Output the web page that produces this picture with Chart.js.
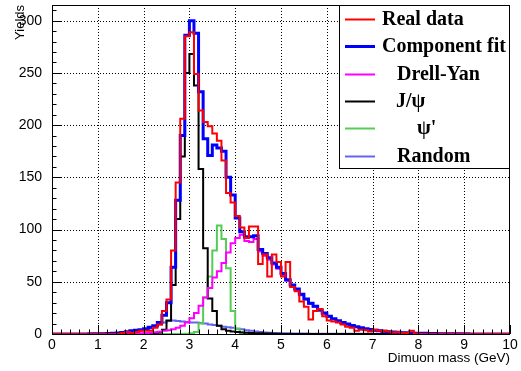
<!DOCTYPE html>
<html>
<head>
<meta charset="utf-8">
<script src="https://cdn.jsdelivr.net/npm/chart.js@4.4.1/dist/chart.umd.min.js"></script>
<style>
  html, body { margin: 0; padding: 0; background: #fff; }
</style>
</head>
<body>
<canvas id="massChart" width="521" height="371"></canvas>
<script>
// Bins: 100 bins of 0.1 GeV between 0 and 10 GeV
const massMin = 0;
const massMax = 10;
const binWidth = 0.1;
const yMax = 315;
const xTickLabels = ['0', '1', '2', '3', '4', '5', '6', '7', '8', '9', '10'];
const yTickLabels = ['0', '50', '100', '150', '200', '250', '300'];

// Real data (red)
const realData = [
    0, 0, 0, 0, 0, 0, 0, 0, 0, 0,
    0, 0, 0, 0, 0, 0, 1, 2, 1, 2,
    3, 3, 3, 6, 9, 22, 33, 80, 145, 206,
    285, 289, 249, 214, 203, 199, 192, 185, 166, 135,
    126, 113, 102, 92, 103, 103, 67, 76, 55, 76,
    69, 55, 69, 45, 41, 31, 26, 14, 22, 24,
    17, 13, 12, 11, 9, 7, 6, 3, 4, 3.5,
    2.5, 4, 3, 3, 2.5, 1.5, 2, 1, 1, 3,
    0.5, 0, 0, 0, 0, 0, 0, 0, 0, 0,
    0, 0, 0, 0, 0, 0, 0, 0, 0, 0
];

// Component fit (blue)
const componentFit = [
    0, 0, 0, 0, 0, 0, 0.1, 0.1, 0.1, 0.2,
    0.2, 0.3, 0.3, 0.4, 0.6, 1, 1.4, 2.2, 3, 3.5,
    4, 5, 6.5, 8, 11, 18, 30, 64, 128, 190,
    286, 300, 288, 232, 187, 171, 181, 178, 175, 150,
    133, 111, 98, 93, 93, 94, 81, 77, 73, 68,
    64, 58, 52, 47, 43, 38, 33.5, 29.5, 26.5, 23,
    20, 17, 14.6, 12.6, 11, 9.5, 8.1, 6.9, 5.9, 5,
    4.3, 3.7, 3.1, 2.6, 2.2, 1.9, 1.6, 1.3, 1.1, 0.9,
    0.8, 0.7, 0.6, 0.5, 0.4, 0.35, 0.3, 0.25, 0.2, 0.2,
    0.15, 0.15, 0.1, 0.1, 0.1, 0.1, 0.1, 0.1, 0.1, 0.1
];

// Drell-Yan (magenta)
const drellYan = [
    0, 0, 0, 0, 0, 0, 0, 0, 0, 0,
    0, 0, 0, 0, 0, 0.1, 0.2, 0.3, 0.4, 0.5,
    0.7, 1, 1.3, 1.7, 2.2, 3, 3.5, 4.5, 6, 8,
    11, 15, 20, 27, 35, 44, 54, 60, 68, 78,
    87, 92, 95, 89, 88, 91, 79, 75, 71, 66.5,
    62.5, 56.5, 51, 46, 42, 37, 33, 29, 26, 22.5,
    19.5, 16.5, 14.2, 12.3, 10.7, 9.2, 7.9, 6.7, 5.7, 4.9,
    4.1, 3.5, 3, 2.5, 2.1, 1.8, 1.5, 1.2, 1, 0.8,
    0.7, 0.6, 0.5, 0.4, 0.35, 0.3, 0.25, 0.2, 0.2, 0.15,
    0.1, 0.1, 0.1, 0.1, 0.1, 0.1, 0.1, 0.1, 0.1, 0.1
];

// J/psi (black)
const jpsi = [
    0, 0, 0, 0, 0, 0, 0, 0, 0, 0,
    0, 0, 0, 0, 0, 0, 0, 0, 0, 0,
    0, 0, 0, 0.5, 1.5, 4, 13, 47, 110, 170,
    250, 268, 238, 158, 82, 34, 22, 8, 4.5, 3,
    2.5, 2, 1.5, 1.2, 1, 0.8, 0.6, 0.5, 0.4, 0.3,
    0.2, 0.1, 0.1, 0.1, 0, 0, 0, 0, 0, 0,
    0, 0, 0, 0, 0, 0, 0, 0, 0, 0,
    0, 0, 0, 0, 0, 0, 0, 0, 0, 0,
    0, 0, 0, 0, 0, 0, 0, 0, 0, 0,
    0, 0, 0, 0, 0, 0, 0, 0, 0, 0
];

// psi' (green)
const psiPrime = [
    0, 0, 0, 0, 0, 0, 0, 0, 0, 0,
    0, 0, 0, 0, 0, 0, 0, 0, 0, 0,
    0, 0, 0, 0, 0, 0, 0, 0, 0, 0,
    0.3, 0.8, 2, 10, 35, 55, 80, 104, 91, 63,
    22, 5, 1.5, 0.5, 0.2, 0, 0, 0, 0, 0,
    0, 0, 0, 0, 0, 0, 0, 0, 0, 0,
    0, 0, 0, 0, 0, 0, 0, 0, 0, 0,
    0, 0, 0, 0, 0, 0, 0, 0, 0, 0,
    0, 0, 0, 0, 0, 0, 0, 0, 0, 0,
    0, 0, 0, 0, 0, 0, 0, 0, 0, 0
];

// Random (slate blue)
const randomBg = [
    0.1, 0.1, 0.1, 0.1, 0.1, 0.1, 0.1, 0.1, 0.1, 0.1,
    0.2, 0.2, 0.3, 0.3, 0.5, 0.8, 1.2, 1.8, 2.5, 3,
    3.5, 4.5, 5.5, 7, 9, 11, 12.5, 13, 12.5, 12,
    11.5, 11, 11, 10.5, 10, 9, 8.5, 8, 7, 6.5,
    6, 5, 4.5, 3.5, 3, 2.5, 2, 1.5, 1.2, 1,
    0.8, 0.7, 0.6, 0.5, 0.5, 0.4, 0.4, 0.3, 0.3, 0.3,
    0.2, 0.2, 0.2, 0.2, 0.2, 0.2, 0.2, 0.2, 0.2, 0.2,
    0.1, 0.1, 0.1, 0.1, 0.1, 0.1, 0.1, 0.1, 0.1, 0.1,
    0.1, 0.1, 0.1, 0.1, 0.1, 0.1, 0.1, 0.1, 0.1, 0.1,
    0.1, 0.1, 0.1, 0.1, 0.1, 0.1, 0.1, 0.1, 0.1, 0.1
];

// histogram outline: point at every low edge + closing point at upper edge
function histPoints(values) {
    const pts = values.map((v, i) => ({ x: massMin + i * binWidth, y: v }));
    pts.push({ x: massMax, y: values[values.length - 1] });
    return pts;
}

function histSet(label, values, color, width) {
    return {
        label: label,
        data: histPoints(values),
        borderColor: color,
        borderWidth: width,
        stepped: 'after',
        pointRadius: 0,
        fill: false
    };
}

// first dataset ends up on top
const datasets = [
    histSet('Real data', realData, '#ff0000', 2),
    histSet('Component fit', componentFit, '#0000ff', 3),
    histSet('Drell-Yan', drellYan, '#ff00ff', 2),
    histSet('J/\u03c8', jpsi, '#000000', 2),
    histSet('\u03c8\'', psiPrime, '#55cc55', 2),
    histSet('Random', randomBg, '#6464ee', 2)
];

// ROOT style frame: dotted grid, inner ticks, box, legend
const rootFrame = {
    id: 'rootFrame',
    beforeDatasetsDraw(chart) {
        const { ctx, chartArea: a, scales: { x, y } } = chart;
        ctx.save();
        ctx.strokeStyle = '#000';
        ctx.lineWidth = 1;
        ctx.setLineDash([1, 2]);
        xTickLabels.forEach(t => {
            const v = parseFloat(t);
            if (v <= massMin || v >= massMax) return;
            const px = Math.round(x.getPixelForValue(v)) + 0.5;
            ctx.beginPath(); ctx.moveTo(px, a.top); ctx.lineTo(px, a.bottom); ctx.stroke();
        });
        yTickLabels.forEach(t => {
            const v = parseFloat(t);
            if (v <= 0) return;
            const py = Math.round(y.getPixelForValue(v)) + 0.5;
            ctx.beginPath(); ctx.moveTo(a.left, py); ctx.lineTo(a.right, py); ctx.stroke();
        });
        ctx.restore();
    },
    afterDatasetsDraw(chart) {
        const { ctx, chartArea: a, scales: { x, y } } = chart;
        ctx.save();
        ctx.strokeStyle = '#000';
        ctx.lineWidth = 1;
        ctx.setLineDash([]);
        // x ticks, major every 1, minor every 0.2
        for (let k = 0; k <= 50; k++) {
            const px = Math.round(x.getPixelForValue(k * 0.2)) + 0.5;
            const len = k % 5 === 0 ? 9 : 4.5;
            ctx.beginPath(); ctx.moveTo(px, a.bottom); ctx.lineTo(px, a.bottom - len); ctx.stroke();
        }
        // y ticks, major every 50, minor every 10
        for (let v = 0; v <= 310; v += 10) {
            const py = Math.round(y.getPixelForValue(v)) + 0.5;
            const len = v % 50 === 0 ? 9 : 4.5;
            ctx.beginPath(); ctx.moveTo(a.left, py); ctx.lineTo(a.left + len, py); ctx.stroke();
        }
        ctx.strokeRect(a.left + 0.5, a.top + 0.5, a.right - a.left - 1, a.bottom - a.top);

        // legend box
        const box = { left: 339, top: 5, right: 510, bottom: 168 };
        ctx.fillStyle = '#fff';
        ctx.fillRect(box.left, box.top, box.right - box.left, box.bottom - box.top);
        ctx.strokeRect(box.left + 0.5, box.top + 0.5, box.right - box.left - 1, box.bottom - box.top);
        const textX = [382, 382, 397, 396, 417, 397];
        ctx.font = 'bold 20px "Liberation Serif", "Times New Roman", serif';
        ctx.textBaseline = 'middle';
        ctx.textAlign = 'left';
        chart.data.datasets.forEach((ds, i) => {
            const cy = 19 + i * 27.3;
            ctx.strokeStyle = ds.borderColor;
            ctx.lineWidth = ds.borderWidth;
            ctx.beginPath(); ctx.moveTo(345, Math.round(cy) + 0.5); ctx.lineTo(375, Math.round(cy) + 0.5); ctx.stroke();
            ctx.fillStyle = '#000';
            ctx.fillText(ds.label, textX[i], cy + 1);
        });
        ctx.restore();
    }
};

new Chart(document.getElementById('massChart'), {
    type: 'line',
    data: { datasets: datasets },
    options: {
        responsive: false,
        animation: false,
        devicePixelRatio: 1,
        layout: { padding: { left: 0, right: 11, top: 5, bottom: 0 } },
        plugins: { legend: { display: false }, tooltip: { enabled: false } },
        scales: {
            x: {
                type: 'linear',
                min: massMin,
                max: massMax,
                grid: { display: false },
                border: { display: false },
                ticks: {
                    stepSize: 1,
                    autoSkip: false,
                    maxRotation: 0,
                    padding: -5,
                    color: '#000',
                    font: { family: '"Liberation Sans", Arial, sans-serif', size: 14 },
                    callback: v => xTickLabels.includes(String(v)) ? String(v) : ''
                },
                title: {
                    display: true,
                    text: 'Dimuon mass (GeV)',
                    align: 'end',
                    color: '#000',
                    padding: { top: 0, bottom: 5 },
                    font: { family: '"Liberation Sans", Arial, sans-serif', size: 13.5 }
                },
                afterFit: s => { s.height = 37; s.paddingLeft = 0; s.paddingRight = 0; }
            },
            y: {
                min: 0,
                max: yMax,
                grid: { display: false },
                border: { display: false },
                ticks: {
                    stepSize: 50,
                    autoSkip: false,
                    includeBounds: false,
                    padding: 2,
                    color: '#000',
                    font: { family: '"Liberation Sans", Arial, sans-serif', size: 14 },
                    callback: v => yTickLabels.includes(String(v)) ? String(v) : ''
                },
                title: {
                    display: true,
                    text: 'Yields',
                    align: 'end',
                    color: '#000',
                    padding: { top: 13, bottom: 0 },
                    font: { family: '"Liberation Sans", Arial, sans-serif', size: 13 }
                },
                afterFit: s => { s.width = 52; s.paddingTop = 0; s.paddingBottom = 0; }
            }
        }
    },
    plugins: [rootFrame]
});
</script>
</body>
</html>
